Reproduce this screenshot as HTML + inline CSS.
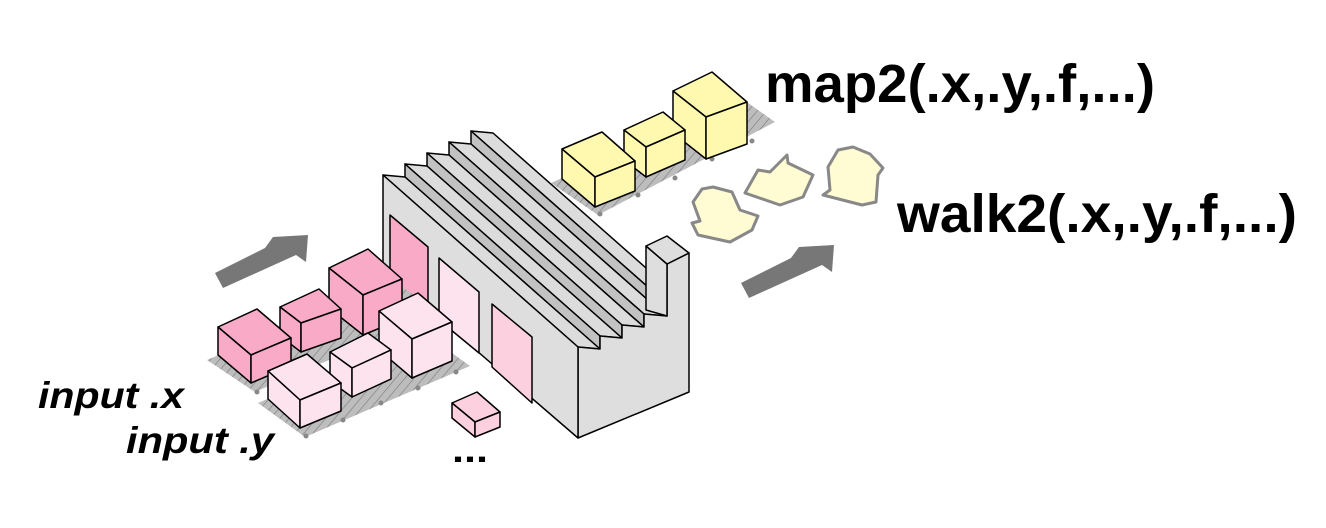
<!DOCTYPE html>
<html><head><meta charset="utf-8"><style>
html,body{margin:0;padding:0;background:#fff;}
svg{display:block;}
</style></head><body>
<svg width="1326" height="528" viewBox="0 0 1326 528" xmlns="http://www.w3.org/2000/svg">
<defs>
<pattern id="h" width="7" height="7" patternUnits="userSpaceOnUse" patternTransform="rotate(40)">
<rect width="7" height="7" fill="#bdbdbd"/><line x1="0" y1="0" x2="0" y2="7" stroke="#7a7a7a" stroke-width="1.2"/>
</pattern>
</defs>
<g stroke-linejoin="round">
<!-- yellow conveyor -->
<polygon points="551,183 598,215 775,122 741,98" fill="url(#h)"/>
<g fill="#888"><circle cx="600" cy="214" r="2.5"/><circle cx="638" cy="195" r="2.5"/><circle cx="675" cy="178" r="2.5"/><circle cx="712" cy="159" r="2.5"/><circle cx="752" cy="141" r="2.5"/></g>
<g fill="#fff9b0" stroke="#000" stroke-width="1.5">
<polygon points="673,91 712,72 747,102 706,117"/><polygon points="673,91 706,117 706,159 673,133"/><polygon points="706,117 747,102 747,144 706,159"/>
<polygon points="624,130 663,112 685,130 646,147"/><polygon points="624,130 646,147 646,177 624,160"/><polygon points="646,147 685,130 685,160 646,177"/>
<polygon points="562,149 602,132 635,161 595,177"/><polygon points="562,149 595,177 595,207 562,179"/><polygon points="595,177 635,161 635,191 595,207"/>
</g>
<!-- blobs -->
<g fill="#fffbd2" stroke="#888" stroke-width="3">
<polygon points="693,202 702,189 713,187 732,192 740,210 758,216 752,230 730,242 698,235 692,223 700,221"/>
<polygon points="745,193 758,170 770,172 787,155 788,163 813,175 803,197 780,205"/>
<polygon points="828,167 838,150 853,147 870,154 883,168 878,175 876,202 862,205 823,195 830,190"/>
</g>
<!-- arrows -->
<polygon points="741,283 791,258 799,247 834,245 832,272 822,265 749,298" fill="#777"/>
<polygon points="215,273 265,248 273,237 308,235 306,262 296,255 223,288" fill="#777"/>
<!-- factory -->
<g stroke="#000" stroke-width="1.5">
<polygon points="471,131 666,303 688,305 493,133" fill="#dcdcdc"/>
<polygon points="471,144 666,316 666,303 471,131" fill="#c2c2c2"/>
<polygon points="449,142 644,314 666,316 471,144" fill="#dcdcdc"/>
<polygon points="449,155 644,327 644,314 449,142" fill="#c2c2c2"/>
<polygon points="427,153 622,325 644,327 449,155" fill="#dcdcdc"/>
<polygon points="427,166 622,338 622,325 427,153" fill="#c2c2c2"/>
<polygon points="405,164 600,336 622,338 427,166" fill="#dcdcdc"/>
<polygon points="405,177 600,349 600,336 405,164" fill="#c2c2c2"/>
<polygon points="383,175 578,347 600,349 405,177" fill="#dcdcdc"/>
<polygon points="578,347 600,349 600,336 622,338 622,325 644,327 644,314 667,316 667,264 689,253 689,392 578,438" fill="#dedede"/>
<polygon points="646,246 667,264 667,316 646,310" fill="#dedede"/>
<polygon points="646,246 667,236 689,253 667,264" fill="#dedede"/>
<polygon points="383,175 578,347 578,438 383,270" fill="#dedede"/>
<polygon points="390,215 428,247 428,320 390,300" fill="#f9aac6"/>
<polygon points="439,258 479,292 479,353 439,320" fill="#fde3ee"/>
<polygon points="492,304 532,337 532,403 492,367" fill="#fdd0e0"/>
</g>
<!-- pink conveyors -->
<polygon points="207,360 255,392 440,312 393,281" fill="url(#h)"/>
<polygon points="258,403 305,437 470,366 423,332" fill="url(#h)"/>
<g fill="#888"><circle cx="257" cy="392" r="2.5"/><circle cx="312" cy="368" r="2.5"/><circle cx="370" cy="344" r="2.5"/><circle cx="420" cy="322" r="2.5"/>
<circle cx="306" cy="436" r="2.5"/><circle cx="343" cy="420" r="2.5"/><circle cx="381" cy="403" r="2.5"/><circle cx="418" cy="388" r="2.5"/><circle cx="456" cy="372" r="2.5"/></g>
<g stroke="#000" stroke-width="1.5">
<g fill="#f9aac6">
<polygon points="329,268 368,249 402,279 363,295"/><polygon points="329,268 363,295 363,335 329,308"/><polygon points="363,295 402,279 402,319 363,335"/>
<polygon points="280,307 319,289 341,309 301,323"/><polygon points="280,307 301,323 301,352 280,336"/><polygon points="301,323 341,309 341,338 301,352"/>
<polygon points="218,327 257,309 291,338 251,355"/><polygon points="218,327 251,355 251,383 218,355"/><polygon points="251,355 291,338 291,366 251,383"/>
</g>
<g fill="#fde3ee">
<polygon points="379,311 418,293 452,322 412,339"/><polygon points="379,311 412,339 412,378 379,350"/><polygon points="412,339 452,322 452,361 412,378"/>
<polygon points="330,352 368,333 391,350 352,368"/><polygon points="330,352 352,368 352,397 330,381"/><polygon points="352,368 391,350 391,379 352,397"/>
<polygon points="268,371 307,354 341,383 300,400"/><polygon points="268,371 300,400 300,428 268,399"/><polygon points="300,400 341,383 341,411 300,428"/>
</g>
<g fill="#fdd0e0">
<polygon points="452,403 477,392 500,412 475,422"/><polygon points="452,403 475,422 475,437 452,418"/><polygon points="475,422 500,412 500,427 475,437"/>
</g>
</g>
</g>
<g font-family="'Liberation Sans', sans-serif" font-weight="bold" fill="#000">
<text x="765" y="102" font-size="54" textLength="390" lengthAdjust="spacingAndGlyphs">map2(.x,.y,.f,...)</text>
<text x="897" y="232" font-size="54" textLength="400" lengthAdjust="spacingAndGlyphs">walk2(.x,.y,.f,...)</text>
<text x="38" y="408" font-size="37" font-style="italic" textLength="146" lengthAdjust="spacingAndGlyphs">input .x</text>
<text x="126" y="453" font-size="37" font-style="italic" textLength="148" lengthAdjust="spacingAndGlyphs">input .y</text>
<text x="452" y="462" font-size="36" textLength="36" lengthAdjust="spacingAndGlyphs">...</text>
</g>
</svg>
</body></html>
